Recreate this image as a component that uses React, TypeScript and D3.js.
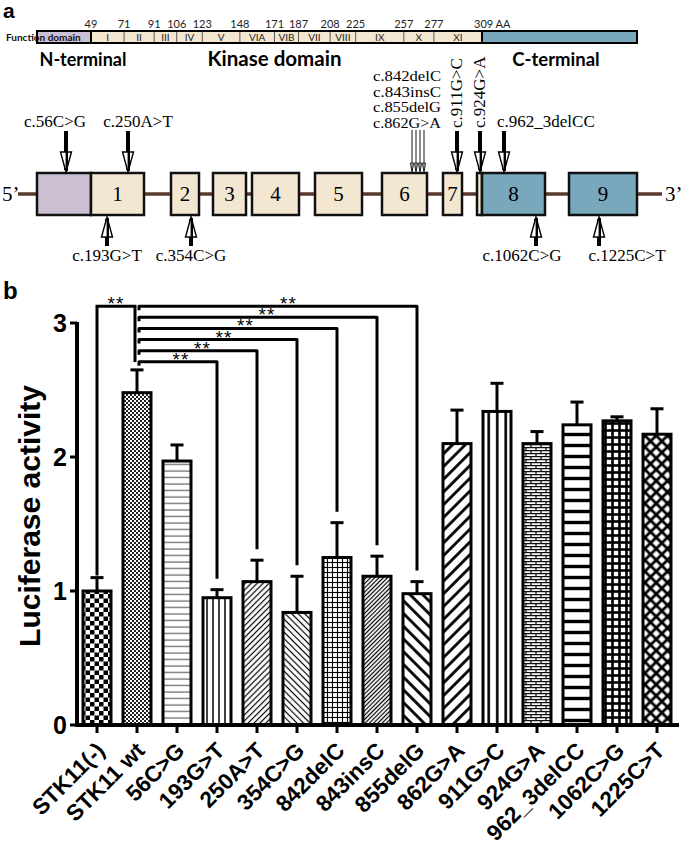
import React from "react";
import * as d3 from "d3";

// ---------- Panel b data ----------
const categories = [
  "STK11(-)", "STK11 wt", "56C>G", "193G>T", "250A>T", "354C>G", "842delC",
  "843insC", "855delG", "862G>A", "911G>C", "924G>A", "962_3delCC", "1062C>G", "1225C>T",
];
const values = [1.0, 2.48, 1.97, 0.95, 1.07, 0.84, 1.25, 1.11, 0.98, 2.10, 2.34, 2.10, 2.24, 2.27, 2.17];
const errors = [0.10, 0.17, 0.12, 0.06, 0.16, 0.27, 0.26, 0.15, 0.09, 0.25, 0.21, 0.09, 0.17, 0.03, 0.19];
const yTicks = [0, 1, 2, 3];
const wtComparisons = ["193G>T", "250A>T", "354C>G", "842delC", "843insC", "855delG"];
const sigLabel = "**";

// ---------- Panel a data ----------
const aaBoundaries = [49, 71, 91, 106, 123, 148, 171, 187, 208, 225, 257, 277, 309];
const subdomains = ["I", "II", "III", "IV", "V", "VIA", "VIB", "VII", "VIII", "IX", "X", "XI"];
const proteinLength = 433;
const regionNames = ["N-terminal", "Kinase domain", "C-terminal"];

// exon schematic (schematic units along the gene drawing)
const exonLabels = ["", "1", "2", "3", "4", "5", "6", "7", "", "8", "9"];
const exonStarts = [19, 73, 153, 195, 234, 297, 364, 425, 459, 464, 551];
const exonEnds = [73, 126, 181, 228, 281, 344, 409, 444, 464, 527, 619];
const exonKinds = ["utr", "k", "k", "k", "k", "k", "k", "k", "k", "c", "c"];
const geneLength = 644;

const mutAbove = ["c.56C>G", "c.250A>T", "c.842delC", "c.843insC", "c.855delG", "c.862G>A", "c.911G>C", "c.924G>A", "c.962_3delCC"];
const mutAbovePos = [48, 110, 394, 398, 402, 406, 439, 462, 486];
const mutBelow = ["c.193G>T", "c.354C>G", "c.1062C>G", "c.1225C>T"];
const mutBelowPos = [89, 173, 518, 581];

const COL = { utr: "#cbbfd4", k: "#f3e7d2", c: "#79a7bc", intron: "#5a3a2c" };
const SANS = "'Liberation Sans', Arial, sans-serif";
const SERIF = "'Liberation Serif', 'Times New Roman', serif";
const CAL = "Lato, 'Open Sans', sans-serif";

function Patterns() {
  const diag = (id: string, p: number, w: number, rot: number) => (
    <pattern id={id} width={p} height={p} patternUnits="userSpaceOnUse" patternTransform={`rotate(${rot})`}>
      <rect width={p} height={p} fill="white" />
      <line x1={p / 2} y1={0} x2={p / 2} y2={p} stroke="black" strokeWidth={w} />
    </pattern>
  );
  return (
    <defs>
      <pattern id="p0" width={9} height={9} patternUnits="userSpaceOnUse">
        <rect width={9} height={9} fill="white" />
        <rect width={4.5} height={4.5} fill="black" />
        <rect x={4.5} y={4.5} width={4.5} height={4.5} fill="black" />
      </pattern>
      <pattern id="p1" width={4} height={4} patternUnits="userSpaceOnUse">
        <rect width={4} height={4} fill="white" />
        <rect width={2} height={2} fill="#222" />
        <rect x={2} y={2} width={2} height={2} fill="#222" />
      </pattern>
      <pattern id="p2" width={6.5} height={6.5} patternUnits="userSpaceOnUse">
        <rect width={6.5} height={6.5} fill="white" />
        <line x1={0} y1={3} x2={6.5} y2={3} stroke="#555" strokeWidth={1.1} />
      </pattern>
      <pattern id="p3" width={6} height={6} patternUnits="userSpaceOnUse">
        <rect width={6} height={6} fill="white" />
        <line x1={3} y1={0} x2={3} y2={6} stroke="black" strokeWidth={1.5} />
      </pattern>
      {diag("p4", 4.2, 1.2, 45)}
      {diag("p5", 4.6, 1.2, -45)}
      <pattern id="p6" width={5} height={5} patternUnits="userSpaceOnUse">
        <rect width={5} height={5} fill="white" />
        <line x1={2.5} y1={0} x2={2.5} y2={5} stroke="black" strokeWidth={1.1} />
        <line x1={0} y1={2.5} x2={5} y2={2.5} stroke="black" strokeWidth={1.1} />
      </pattern>
      {diag("p7", 3, 1.2, 45)}
      {diag("p8", 9, 2.8, -45)}
      {diag("p9", 9, 2.8, 45)}
      <pattern id="p10" width={8.5} height={8.5} patternUnits="userSpaceOnUse">
        <rect width={8.5} height={8.5} fill="white" />
        <line x1={4.25} y1={0} x2={4.25} y2={8.5} stroke="black" strokeWidth={2.6} />
      </pattern>
      <pattern id="p11" width={10} height={6} patternUnits="userSpaceOnUse">
        <rect width={10} height={6} fill="white" />
        <line x1={0} y1={0.6} x2={10} y2={0.6} stroke="#111" strokeWidth={1.3} />
        <line x1={0} y1={3.6} x2={10} y2={3.6} stroke="#111" strokeWidth={1.3} />
        <line x1={1} y1={0} x2={1} y2={3} stroke="#111" strokeWidth={1.3} />
        <line x1={6} y1={3} x2={6} y2={6} stroke="#111" strokeWidth={1.3} />
      </pattern>
      <pattern id="p12" width={11} height={11} patternUnits="userSpaceOnUse">
        <rect width={11} height={11} fill="white" />
        <line x1={0} y1={5.5} x2={11} y2={5.5} stroke="black" strokeWidth={3.4} />
      </pattern>
      <pattern id="p13" width={7} height={7} patternUnits="userSpaceOnUse">
        <rect width={7} height={7} fill="white" />
        <line x1={3.5} y1={0} x2={3.5} y2={7} stroke="black" strokeWidth={2.6} />
        <line x1={0} y1={3.5} x2={7} y2={3.5} stroke="black" strokeWidth={2.6} />
      </pattern>
      <pattern id="p14" width={8} height={8} patternUnits="userSpaceOnUse" patternTransform="rotate(45)">
        <rect width={8} height={8} fill="white" />
        <line x1={4} y1={0} x2={4} y2={8} stroke="black" strokeWidth={2.8} />
        <line x1={0} y1={4} x2={8} y2={4} stroke="black" strokeWidth={2.8} />
      </pattern>
    </defs>
  );
}

function ArrowDown({ x, y1, y2, thin }: { x: number; y1: number; y2: number; thin?: boolean }) {
  const hw = thin ? 1.8 : 5.5;
  const hl = thin ? 9 : 20;
  return (
    <g>
      <line x1={x} y1={y1} x2={x} y2={y2 - 2} stroke="black" strokeWidth={thin ? 0.9 : 4} />
      <path d={`M${x},${y2} L${x - hw},${y2 - hl} L${x + hw},${y2 - hl} Z`} fill="white" stroke="black" strokeWidth={thin ? 0.7 : 1.4} />
      <line x1={x + (thin ? 0 : 0.8)} y1={y2 - hl} x2={x + (thin ? 0 : 0.8)} y2={y2 - 1} stroke="black" strokeWidth={thin ? 0.9 : 2.4} />
    </g>
  );
}
function ArrowUp({ x, y1, y2 }: { x: number; y1: number; y2: number }) {
  const hw = 5.5, hl = 20;
  return (
    <g>
      <line x1={x} y1={y1} x2={x} y2={y2 + 2} stroke="black" strokeWidth={4} />
      <path d={`M${x},${y2} L${x - hw},${y2 + hl} L${x + hw},${y2 + hl} Z`} fill="white" stroke="black" strokeWidth={1.4} />
      <line x1={x + 0.8} y1={y2 + hl} x2={x + 0.8} y2={y2 + 1} stroke="black" strokeWidth={2.4} />
    </g>
  );
}

export default function App() {
  // ---- panel a scales
  const aa = d3.scaleLinear().domain([0, 49, 309, proteinLength]).range([37, 91, 482, 637]);
  const gx = d3.scaleLinear().domain([0, geneLength]).range([18, 662]);
  const barTop = 31, barBot = 43;
  const exTop = 173, exBot = 215, exMid = 194;

  // ---- panel b scales
  const x = d3.scaleBand<string>().domain(categories).range([77, 677]).paddingInner(0.3).paddingOuter(0.15);
  const y = d3.scaleLinear().domain([0, 3]).range([725, 323]);
  const bw = x.bandwidth();
  const cx = (c: string) => (x(c) as number) + bw / 2;
  const idx = (c: string) => categories.indexOf(c);
  const level = (i: number) => y(2.71 + 0.083 * i);

  return (
    <svg width={685} height={846} style={{ position: "absolute", left: 0, top: 0, background: "white" }}>
      <Patterns />
      {/* ================= Panel a ================= */}
      <text x={3} y={18} fontFamily={SANS} fontWeight="bold" fontSize={21}>a</text>

      {/* domain bar */}
      <rect x={aa(0)} y={barTop} width={aa(49) - aa(0)} height={barBot - barTop} fill={COL.utr} />
      <rect x={aa(49)} y={barTop} width={aa(309) - aa(49)} height={barBot - barTop} fill={COL.k} />
      <rect x={aa(309)} y={barTop} width={aa(proteinLength) - aa(309)} height={barBot - barTop} fill={COL.c} />
      {aaBoundaries.slice(1, -1).map((b) => (
        <line key={b} x1={aa(b)} x2={aa(b)} y1={barTop} y2={barBot} stroke="#333" strokeWidth={0.8} />
      ))}
      <line x1={aa(49)} x2={aa(49)} y1={barTop} y2={barBot} stroke="black" strokeWidth={2} />
      <line x1={aa(309)} x2={aa(309)} y1={barTop} y2={barBot} stroke="black" strokeWidth={2} />
      <rect x={aa(0)} y={barTop} width={aa(proteinLength) - aa(0)} height={barBot - barTop} fill="none" stroke="black" strokeWidth={2} />
      {subdomains.map((s, i) => (
        <text key={s} x={(aa(aaBoundaries[i]) + aa(aaBoundaries[i + 1])) / 2} y={41} fontFamily={CAL} fontSize={10} textAnchor="middle" fill="#222">{s}</text>
      ))}
      {aaBoundaries.map((b, i) => (
        <text key={b} x={i === aaBoundaries.length - 1 ? aa(b) - 8 : aa(b)} y={28} fontFamily={CAL} fontSize={11}
          textAnchor={i === aaBoundaries.length - 1 ? "start" : "middle"} fill="#222">
          {i === aaBoundaries.length - 1 ? `${b} AA` : b}
        </text>
      ))}
      <text x={6} y={41} fontFamily={CAL} fontWeight="bold" fontSize={10} fill="#111">Function domain</text>
      <text x={83} y={66} fontFamily={CAL} fontWeight="bold" fontSize={18} textAnchor="middle">{regionNames[0]}</text>
      <text x={(aa(49) + aa(309)) / 2 - 12} y={66} fontFamily={CAL} fontWeight="bold" fontSize={20.5} textAnchor="middle">{regionNames[1]}</text>
      <text x={556} y={66} fontFamily={CAL} fontWeight="bold" fontSize={18.5} textAnchor="middle">{regionNames[2]}</text>

      {/* gene schematic */}
      <line x1={gx(0)} x2={gx(geneLength)} y1={exMid} y2={exMid} stroke={COL.intron} strokeWidth={3.5} />
      <text x={2} y={201} fontFamily={SERIF} fontSize={21}>5’</text>
      <text x={665} y={201} fontFamily={SERIF} fontSize={21}>3’</text>
      {exonStarts.map((s, i) => (
        <g key={i}>
          <rect x={gx(s)} y={exTop} width={gx(exonEnds[i]) - gx(s)} height={exBot - exTop}
            fill={COL[exonKinds[i] as keyof typeof COL]} stroke="#111" strokeWidth={2.5} />
          {exonLabels[i] && (
            <text x={(gx(s) + gx(exonEnds[i])) / 2} y={201} fontFamily={SERIF} fontSize={21} textAnchor="middle">{exonLabels[i]}</text>
          )}
        </g>
      ))}

      {/* mutations above */}
      <text x={gx(mutAbovePos[0]) - 11} y={127} fontFamily={SERIF} fontSize={17} textAnchor="middle">{mutAbove[0]}</text>
      <ArrowDown x={gx(mutAbovePos[0])} y1={131} y2={exTop - 1} />
      <text x={gx(mutAbovePos[1]) + 10} y={127} fontFamily={SERIF} fontSize={17} textAnchor="middle">{mutAbove[1]}</text>
      <ArrowDown x={gx(mutAbovePos[1])} y1={131} y2={exTop - 1} />
      {[2, 3, 4, 5].map((k, j) => (
        <g key={k}>
          <text x={gx(mutAbovePos[2]) - 39} y={81 + j * 15.6} fontFamily={SERIF} fontSize={14} textLength={68} lengthAdjust="spacingAndGlyphs">{mutAbove[k]}</text>
          <ArrowDown x={gx(mutAbovePos[k])} y1={130} y2={exTop - 1} thin />
        </g>
      ))}
      {[6, 7].map((k) => (
        <g key={k}>
          <text transform={`translate(${gx(mutAbovePos[k]) + 5},128) rotate(-90)`} fontFamily={SERIF} fontSize={17}>{mutAbove[k]}</text>
          <ArrowDown x={gx(mutAbovePos[k])} y1={131} y2={exTop - 1} />
        </g>
      ))}
      <text x={gx(mutAbovePos[8]) - 7} y={127} fontFamily={SERIF} fontSize={17}>{mutAbove[8]}</text>
      <ArrowDown x={gx(mutAbovePos[8])} y1={131} y2={exTop - 1} />

      {/* mutations below */}
      {mutBelow.map((m, i) => {
        const ax = gx(mutBelowPos[i]);
        const off = i === 2 ? -14 : i === 3 ? 28 : 0;
        return (
          <g key={m}>
            <ArrowUp x={ax} y1={246} y2={exBot + 2} />
            <text x={ax + off} y={261} fontFamily={SERIF} fontSize={17} textAnchor="middle">{m}</text>
          </g>
        );
      })}

      {/* ================= Panel b ================= */}
      <text x={3} y={299} fontFamily={SANS} fontWeight="bold" fontSize={24}>b</text>

      {/* bars */}
      {categories.map((c, i) => (
        <g key={c}>
          <line x1={cx(c)} x2={cx(c)} y1={y(values[i])} y2={y(values[i] + errors[i])} stroke="black" strokeWidth={3} />
          <line x1={cx(c) - 6.5} x2={cx(c) + 6.5} y1={y(values[i] + errors[i])} y2={y(values[i] + errors[i])} stroke="black" strokeWidth={3} />
          <rect x={x(c)} y={y(values[i])} width={bw} height={y(0) - y(values[i])} fill={`url(#p${i})`} stroke="black" strokeWidth={3} />
        </g>
      ))}

      {/* significance brackets */}
      {(() => {
        const i0 = 0, i1 = 1;
        const ly = level(wtComparisons.length - 1);
        const xl = cx(categories[i0]);
        const xr = cx(categories[i1]) - 2;
        return (
          <g>
            <path d={`M${xl},${y(values[i0] + errors[i0]) - 2} L${xl},${ly} L${xr},${ly} L${xr},${y(values[i1] + errors[i1]) - 8}`}
              fill="none" stroke="black" strokeWidth={3} />
            <text x={(xl + xr) / 2} y={ly + 4} fontFamily={SANS} fontSize={19} textAnchor="middle" letterSpacing={1}>{sigLabel}</text>
          </g>
        );
      })()}
      {wtComparisons.map((c, i) => {
        const j = idx(c);
        const ly = level(i);
        const xl = cx("STK11 wt") + 2;
        const xr = cx(c);
        return (
          <g key={c}>
            <path d={`M${xl},${ly + 4} L${xl},${ly} L${xr},${ly} L${xr},${y(values[j] + errors[j]) - 11}`}
              fill="none" stroke="black" strokeWidth={3} strokeLinejoin="round" />
            <text x={(xl + xr) / 2 + 3 + i * 1.5} y={ly + 4} fontFamily={SANS} fontSize={19} textAnchor="middle" letterSpacing={1}>{sigLabel}</text>
          </g>
        );
      })}

      {/* axes */}
      <line x1={77} x2={77} y1={y(3) - 1} y2={y(0) + 2} stroke="black" strokeWidth={4} />
      <line x1={75} x2={679} y1={y(0)} y2={y(0)} stroke="black" strokeWidth={4} />
      {yTicks.map((t) => (
        <g key={t}>
          <line x1={70} x2={77} y1={y(t)} y2={y(t)} stroke="black" strokeWidth={3} />
          <text x={67} y={y(t) + 9} fontFamily={SANS} fontWeight="bold" fontSize={25} textAnchor="end">{t}</text>
        </g>
      ))}
      {categories.map((c) => (
        <g key={c}>
          <line x1={cx(c)} x2={cx(c)} y1={y(0)} y2={y(0) + 8} stroke="black" strokeWidth={3} />
          <text transform={`translate(${cx(c) + 9},${y(0) + 27}) rotate(-45)`} fontFamily={SANS} fontWeight="bold" fontSize={22.5} textAnchor="end">{c}</text>
        </g>
      ))}
      <text transform={`translate(40,516) rotate(-90)`} fontFamily={SANS} fontWeight="bold" fontSize={30} textAnchor="middle">Luciferase activity</text>
    </svg>
  );
}
